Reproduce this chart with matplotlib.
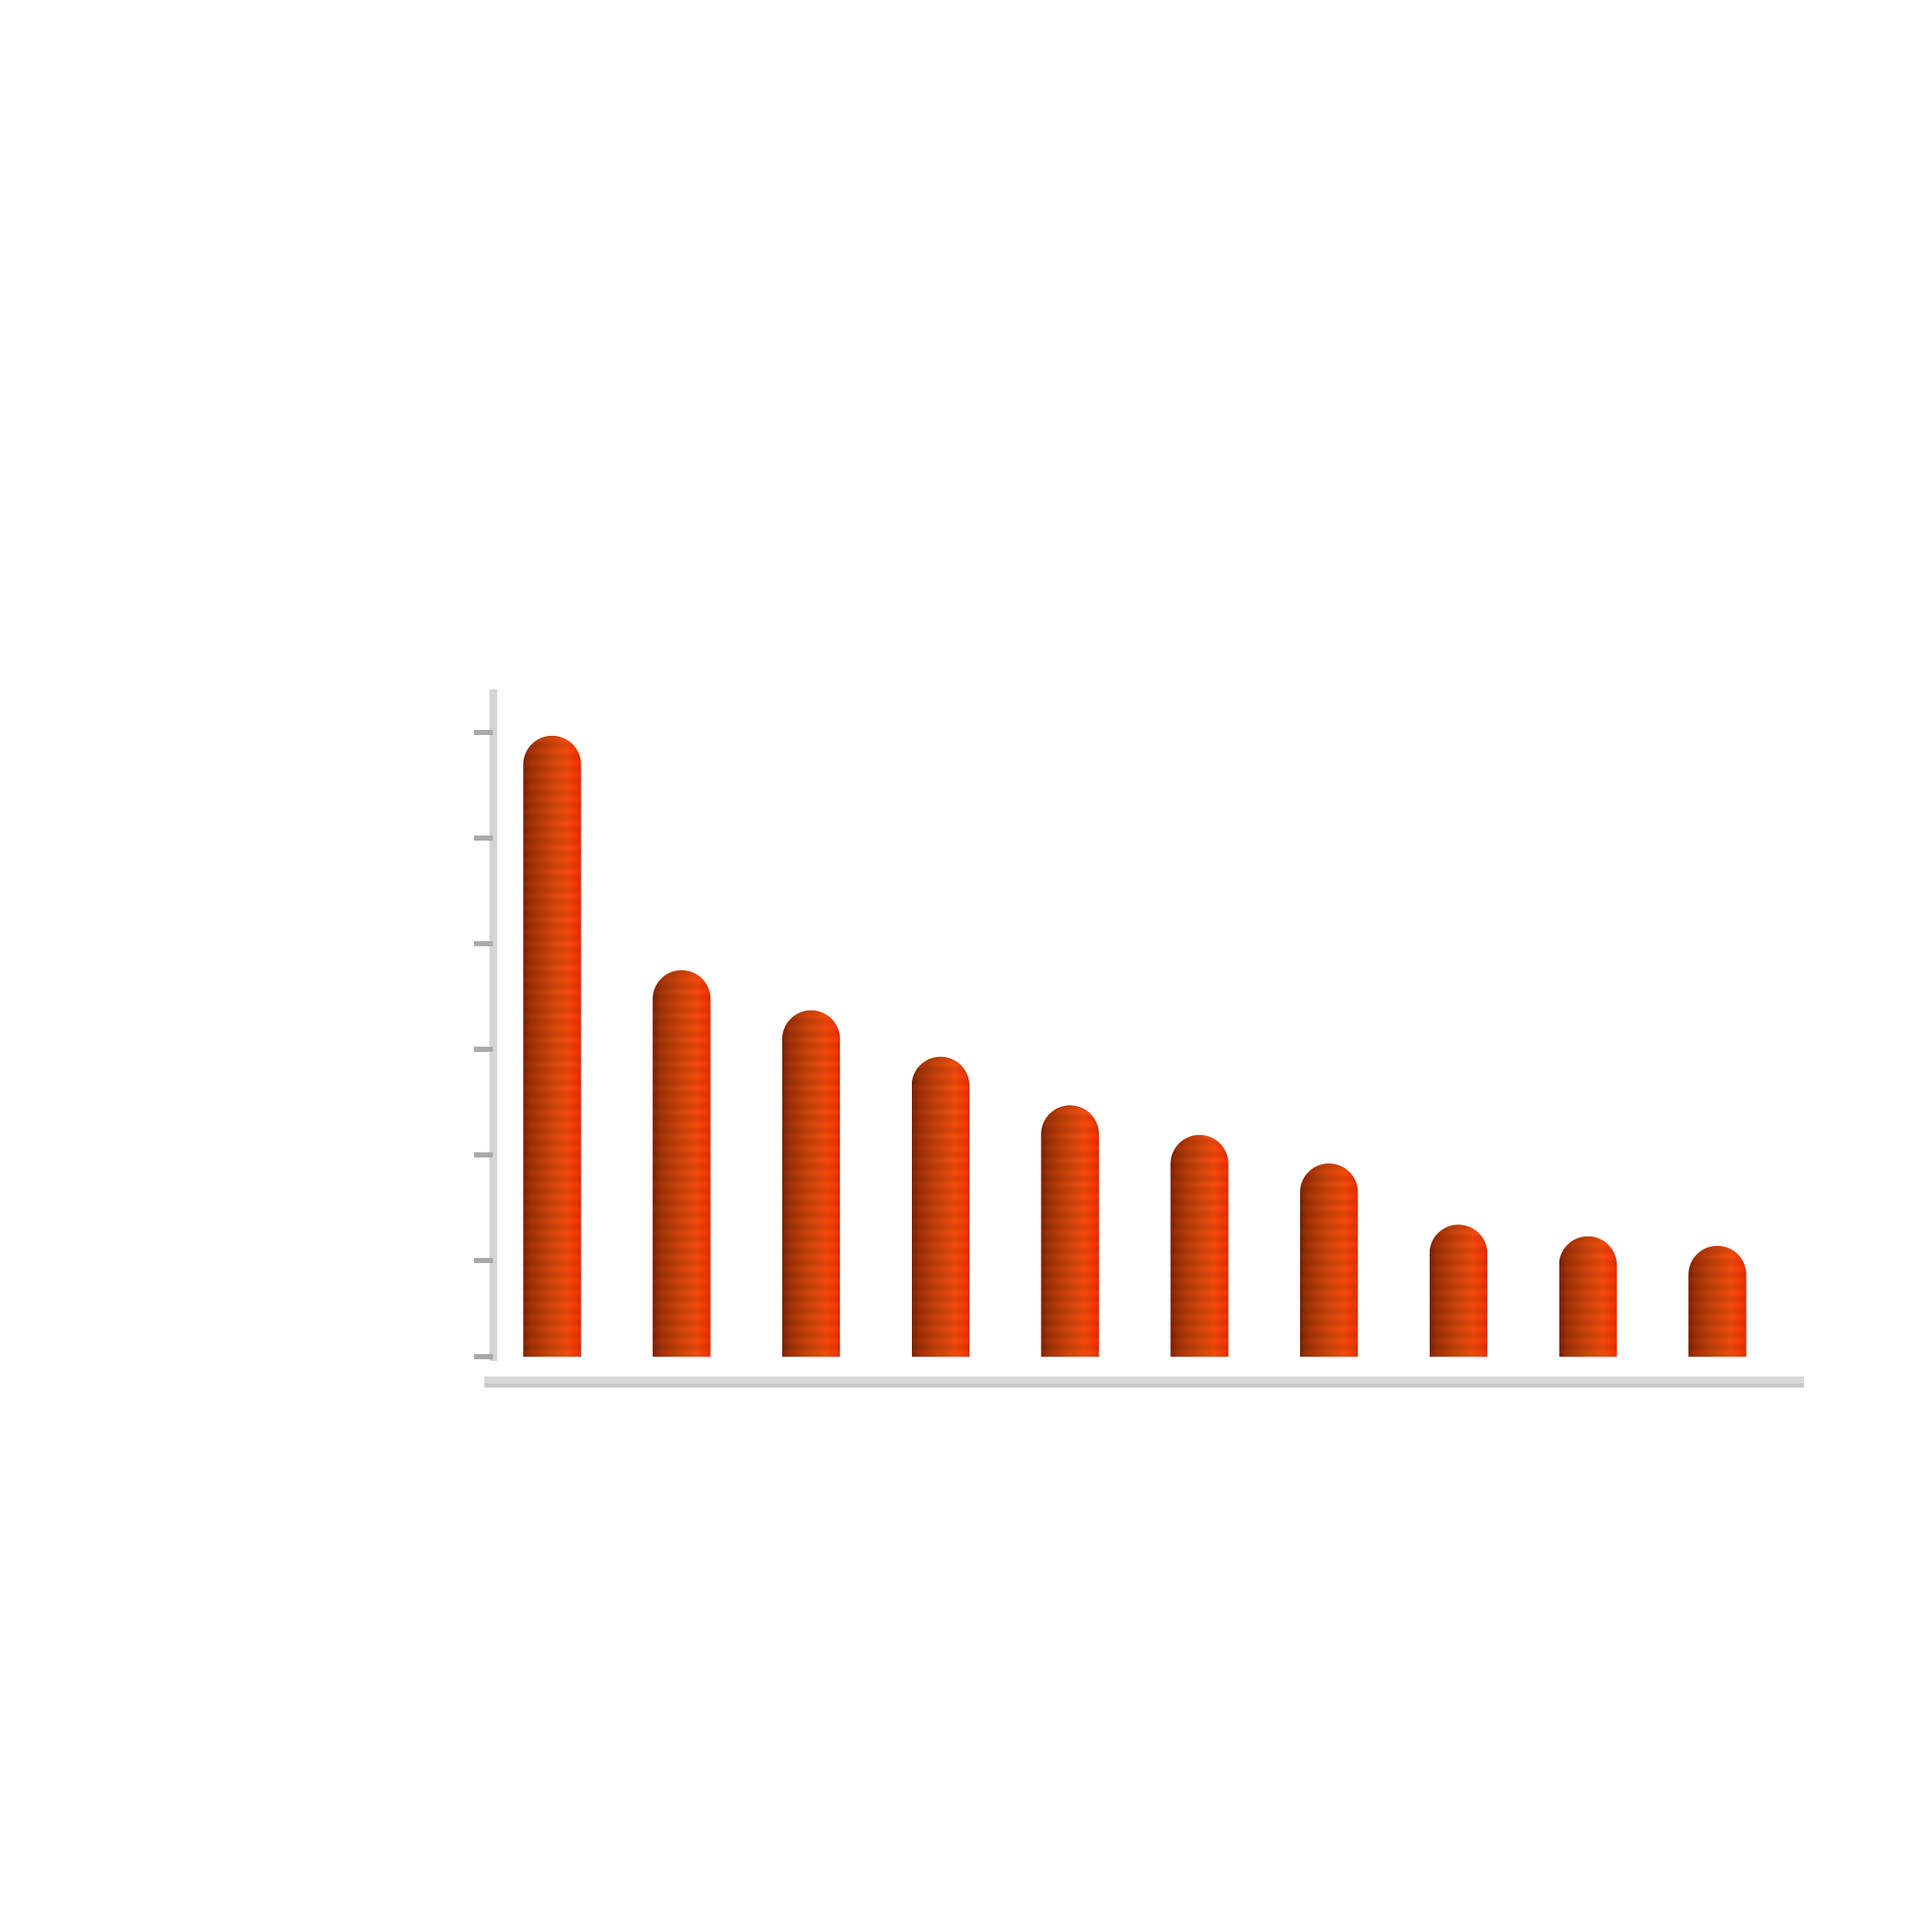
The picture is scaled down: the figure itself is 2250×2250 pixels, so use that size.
import numpy as np
import matplotlib
matplotlib.use("Agg")
import matplotlib.pyplot as plt
from matplotlib.path import Path
from matplotlib.patches import PathPatch, Rectangle
from matplotlib.colors import LinearSegmentedColormap

# data (no labels shown in the reference)
categories = ["A", "B", "C", "D", "E", "F", "G", "H", "I", "J"]
values = [58.8, 36.6, 32.8, 28.4, 23.8, 21.0, 18.3, 12.5, 11.4, 10.5]
tick_vals = [0, 9.13, 19.13, 29.13, 39.13, 49.13, 59.13]
y_max = 62.85

# bar colour: dark brown-red on the left, bright orange-red on the right
bar_cmap = LinearSegmentedColormap.from_list(
    "cyl",
    [(0.0, "#7a2308"), (0.12, "#9c3006"), (0.45, "#c4420a"),
     (0.75, "#e9480d"), (0.9, "#ee3802"), (1.0, "#dc3000")],
)

fig = plt.figure(figsize=(22.5, 22.5), dpi=100)
ax = fig.add_axes([0.2549, 0.29778, 0.9338 - 0.2549, 0.64133 - 0.29778])

x = np.arange(len(categories))
bar_w = 0.447
ax.set_xlim(-0.461, len(categories) - 1 + 0.67)
ax.set_ylim(0, y_max)

# radius of the round top in y units so that it looks circular
fig.canvas.draw()
p0 = ax.transData.transform((0, 0))
p1 = ax.transData.transform((1, 1))
px_per_x = p1[0] - p0[0]
px_per_y = p1[1] - p0[1]
rx = bar_w / 2
ry = rx * px_per_x / px_per_y

cols = 120
rgb_row = bar_cmap(np.linspace(0, 1, cols))[:, :3]

for xi, v in zip(x, values):
    x0 = xi - bar_w / 2
    t = np.linspace(np.pi, 0, 60)
    top = np.column_stack([xi + rx * np.cos(t), (v - ry) + ry * np.sin(t)])
    verts = [(x0, 0)] + [tuple(p) for p in top] + [(x0 + bar_w, 0), (x0, 0)]
    codes = [Path.MOVETO] + [Path.LINETO] * (len(verts) - 2) + [Path.CLOSEPOLY]
    patch = PathPatch(Path(verts, codes), facecolor="none", edgecolor="none")
    ax.add_patch(patch)

    rows = max(int(v * px_per_y), 2)
    r = np.arange(rows)[:, None]
    stripes = 1 + 0.04 * np.sin(2 * np.pi * r / 14.0)
    img = np.clip(rgb_row[None, :, :] * stripes[:, :, None], 0, 1)
    im = ax.imshow(img, extent=(x0, x0 + bar_w, 0, v), origin="lower",
                   aspect="auto", interpolation="bilinear", zorder=2)
    im.set_clip_path(patch)

ax.set_xlim(-0.461, len(categories) - 1 + 0.67)
ax.set_ylim(0, y_max)

# axes styling
for s in ["top", "right", "bottom"]:
    ax.spines[s].set_visible(False)
ax.spines["left"].set_color("#d4d4d4")
ax.spines["left"].set_linewidth(6.5)
ax.spines["left"].set_zorder(1)
ax.set_xticks([])
ax.set_yticks(tick_vals)
ax.set_yticklabels([])
ax.tick_params(axis="y", direction="out", length=15.5, width=4.3,
               color="#aaaaaa")

# light grey base strip under the bars
ax.add_patch(Rectangle((-0.0062, -0.0407), 1.0062, 0.0109,
                       transform=ax.transAxes, facecolor="#d9d9d9",
                       edgecolor="none", clip_on=False))
ax.add_patch(Rectangle((-0.0062, -0.0466), 1.0062, 0.0059,
                       transform=ax.transAxes, facecolor="#cacaca",
                       edgecolor="none", clip_on=False))

fig.savefig("out.png", dpi=100, facecolor="white")
